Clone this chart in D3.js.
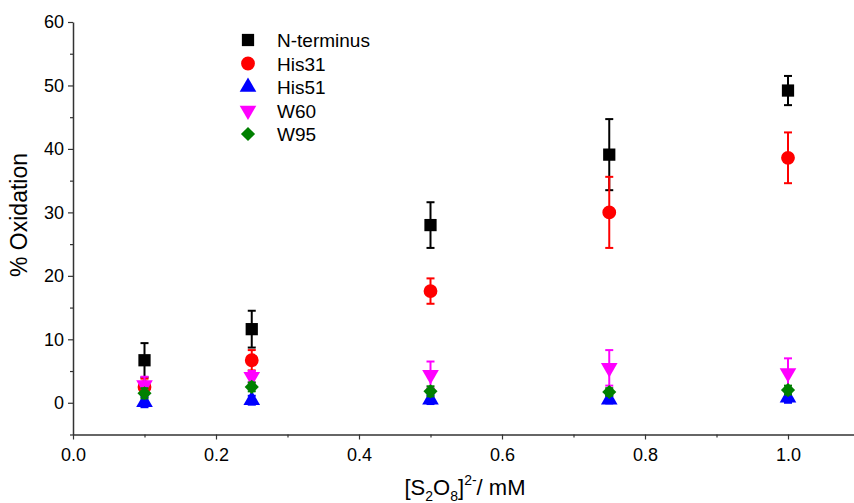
<!DOCTYPE html>
<html>
<head>
<meta charset="utf-8">
<script src="https://cdn.jsdelivr.net/npm/d3@7"></script>
<style>
  body { margin: 0; background: #fff; }
  text { font-family: "Liberation Sans", Arial, sans-serif; fill: #000; }
</style>
</head>
<body>
<svg width="854" height="503"></svg>
<script>
const conc = [0.1, 0.25, 0.5, 0.75, 1.0];

const names = ['N-terminus', 'His31', 'His51', 'W60', 'W95'];
const colors = ['#000000', '#ff0000', '#0000ff', '#ff00ff', '#008000'];
const shapes = ['square', 'circle', 'up', 'down', 'diamond'];

const nTermVal = [6.7, 11.6, 28.0, 39.1, 49.2];
const nTermErr = [2.7, 2.9, 3.6, 5.6, 2.3];
const his31Val = [2.5, 6.7, 17.6, 30.0, 38.6];
const his31Err = [1.3, 1.6, 2.0, 5.6, 4.0];
const his51Val = [0.1, 0.4, 0.5, 0.5, 0.8];
const his51Err = [0.8, 0.7, 0.7, 0.6, 0.8];
const w60Val = [2.8, 4.1, 4.4, 5.5, 4.7];
const w60Err = [1.3, 0.9, 2.1, 2.8, 2.3];
const w95Val = [1.5, 2.5, 1.8, 1.7, 2.0];
const w95Err = [0.8, 0.7, 0.8, 0.6, 0.7];

const xTicks = [0, 0.2, 0.4, 0.6, 0.8, 1.0];
const yTicks = [0, 10, 20, 30, 40, 50, 60];

const seriesVals = [nTermVal, his31Val, his51Val, w60Val, w95Val];
const seriesErrs = [nTermErr, his31Err, his51Err, w60Err, w95Err];

const svg = d3.select('svg');

const x = d3.scaleLinear().domain([0, 1.1]).range([73, 859.5]);
const y = d3.scaleLinear().domain([-5, 60]).range([434.5, 22]);

// axes
const xAxis = svg.append('g')
  .attr('transform', `translate(0, ${y(-5)})`)
  .call(d3.axisBottom(x).tickValues(xTicks).tickFormat(d3.format('.1f')).tickSize(5).tickSizeOuter(0));
svg.append('g')
  .attr('transform', `translate(0, ${y(-5)})`)
  .call(d3.axisBottom(x).tickValues(d3.range(0.1, 1.1, 0.2)).tickFormat('').tickSize(3).tickSizeOuter(0))
  .select('.domain').remove();

const yAxis = svg.append('g')
  .attr('transform', `translate(${x(0)}, 0)`)
  .call(d3.axisLeft(y).tickValues(yTicks).tickSize(5).tickSizeOuter(0));
svg.append('g')
  .attr('transform', `translate(${x(0)}, 0)`)
  .call(d3.axisLeft(y).tickValues([-5, 5, 15, 25, 35, 45, 55]).tickFormat('').tickSize(3).tickSizeOuter(0))
  .select('.domain').remove();

svg.selectAll('.domain').attr('stroke', '#333').attr('stroke-width', 1.5);
svg.selectAll('.tick line').attr('stroke', '#333').attr('stroke-width', 1.2);
xAxis.selectAll('.tick text').style('font-size', '18px').attr('dy', '1.0em');
yAxis.selectAll('.tick text').style('font-size', '18px').attr('dx', '-0.05em');
svg.selectAll('.tick text').attr('fill', '#000');

// axis titles
svg.append('text')
  .attr('transform', 'translate(27, 215) rotate(-90)')
  .attr('text-anchor', 'middle')
  .style('font-size', '23px')
  .text('% Oxidation');

const xt = svg.append('text')
  .attr('x', 465).attr('y', 495)
  .attr('text-anchor', 'middle')
  .style('font-size', '22px');
xt.append('tspan').text('[S');
xt.append('tspan').attr('dy', 6).style('font-size', '14px').text('2');
xt.append('tspan').attr('dy', -6).text('O');
xt.append('tspan').attr('dy', 6).style('font-size', '14px').text('8');
xt.append('tspan').attr('dy', -6).text(']');
xt.append('tspan').attr('dy', -10).style('font-size', '14px').text('2-');
xt.append('tspan').attr('dy', 10).text('/ mM');

const symbolFor = s => {
  if (s === 'square') return d3.symbol(d3.symbolSquare, 150)();
  if (s === 'circle') return d3.symbol(d3.symbolCircle, 150)();
  if (s === 'diamond') return d3.symbol(d3.symbolSquare, 100)();
  return d3.symbol(d3.symbolTriangle, 120)();
};
const rot = s => s === 'down' ? ' rotate(180)' : s === 'diamond' ? ' rotate(45)' : '';

// data
names.forEach((name, i) => {
  const pts = conc.map((c, j) => ({ c, v: seriesVals[i][j], e: seriesErrs[i][j] }));
  const g = svg.append('g').attr('fill', colors[i]).attr('stroke', colors[i]);

  const eb = g.selectAll('.eb').data(pts).enter().append('g');
  eb.append('line')
    .attr('x1', d => x(d.c)).attr('x2', d => x(d.c))
    .attr('y1', d => y(d.v + d.e)).attr('y2', d => y(d.v - d.e))
    .attr('stroke-width', 2);
  eb.append('line')
    .attr('x1', d => x(d.c) - 4).attr('x2', d => x(d.c) + 4)
    .attr('y1', d => y(d.v + d.e)).attr('y2', d => y(d.v + d.e))
    .attr('stroke-width', 2);
  eb.append('line')
    .attr('x1', d => x(d.c) - 4).attr('x2', d => x(d.c) + 4)
    .attr('y1', d => y(d.v - d.e)).attr('y2', d => y(d.v - d.e))
    .attr('stroke-width', 2);

  g.selectAll('.pt').data(pts).enter().append('path')
    .attr('d', symbolFor(shapes[i]))
    .attr('stroke', 'none')
    .attr('transform', d => `translate(${x(d.c)}, ${y(d.v)})${rot(shapes[i])}`);
});

// legend
const legend = svg.append('g');
names.forEach((name, i) => {
  const ly = 40 + i * 23.5;
  legend.append('path')
    .attr('d', symbolFor(shapes[i]))
    .attr('fill', colors[i])
    .attr('transform', `translate(248, ${ly})${rot(shapes[i])}`);
  legend.append('text')
    .attr('x', 277).attr('y', ly + 7)
    .style('font-size', '19px')
    .text(name);
});
</script>
</body>
</html>
